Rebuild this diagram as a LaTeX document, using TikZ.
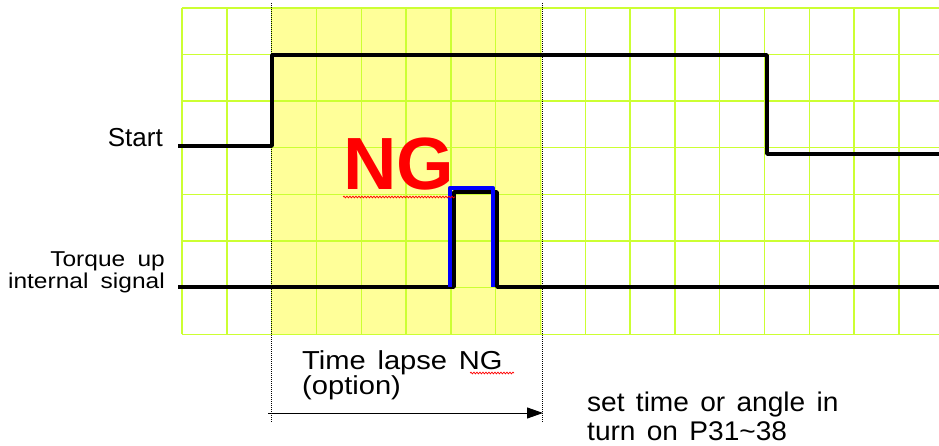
\documentclass[tikz,border=0pt]{standalone}
\usepackage{fontspec}
\setmainfont{Liberation Sans}
\newfontfamily\widesans[FakeStretch=1.14, WordSpace=1.8]{Liberation Sans}
\newfontfamily\notesans[FakeStretch=1.12, WordSpace=1.45]{Liberation Sans}
\newfontfamily\paramsans[FakeStretch=1.04, WordSpace=1.45]{Liberation Sans}
\usepackage{tikz}
\usetikzlibrary{arrows.meta,positioning,decorations.pathmorphing}
\definecolor{gridgreen}{HTML}{CCFF33}
\definecolor{windowyellow}{HTML}{FFFF99}
\definecolor{ngred}{HTML}{FF0000}
\definecolor{pulseblue}{HTML}{0000FF}
\tikzset{
  gridline/.style={gridgreen, line width=1.4pt},
  signal/.style={black, line width=3.6pt, line join=round},
  pulse/.style={pulseblue, line width=4.2pt, line join=round},
  marker/.style={black, densely dotted, line width=1pt},
  span/.style={-{Triangle[length=16pt, width=11pt]}, black, line width=1pt},
  siglabel/.style={font=\widesans\fontsize{21.5}{21.7}\selectfont,
                   align=right, inner sep=0pt},
  note/.style={font=\notesans\fontsize{26}{25}\selectfont,
               align=left, inner sep=0pt},
  squiggle/.style={ngred, line width=0.7pt, decorate,
                   decoration={snake, amplitude=0.9pt, segment length=3pt}},
}

\begin{document}
\begin{tikzpicture}[x=1pt, y=-1pt]
\useasboundingbox (0,0) rectangle (939,446);

% ── Time window (yellow) and grid ──────────────────────────
\fill[windowyellow] (271,8) rectangle (542,334);
\foreach \k in {0,...,16}
  \draw[gridline] ({182+44.8*\k},8) -- ({182+44.8*\k},334);
\foreach \k in {0,...,7}
  \draw[gridline] (182,{8+46.6*\k}) -- (939,{8+46.6*\k});

% ── Window markers ─────────────────────────────────────────
\coordinate (win@l) at (271,3);
\coordinate (win@r) at (542,3);
\draw[marker] (win@l) -- ++(0,419);
\draw[marker] (win@r) -- ++(0,419);

% ── Signal labels (left) ───────────────────────────────────
\node[font=\fontsize{26}{26}\selectfont, inner sep=0pt, anchor=base east]
      (start) at (163,147) {Start};
\node[siglabel, anchor=base east] (torque) at (165,288.3)
      {Torque up\\internal signal};

% ── Start waveform ─────────────────────────────────────────
\draw[signal] (178,146) -- (272,146) -- (272,55) -- (767,55)
      -- (767,154) -- (939,154);

% ── Torque up internal signal with NG pulse ────────────────
\draw[signal] (178,287) -- (454,287) -- (454,192) -- (497,192)
      -- (497,287) -- (939,287);
\draw[pulse] (450,287) -- (450,188) -- (493,188) -- (493,287);

\node[font=\fontsize{74}{74}\selectfont\bfseries, text=ngred,
      inner sep=0pt] (ng) at (399,164) {NG};
\draw[squiggle] (343,197) -- (455,197);

% ── Time lapse span ────────────────────────────────────────
\coordinate (span@a) at (268,413);
\coordinate (span@b) at (543,413);
\draw[span] (span@a) -- (span@b);
\node[note, anchor=base west] (lapse) at (302,394)
      {Time lapse NG\\(option)};
\draw[squiggle] (470,373) -- (514,373);

% ── Parameter note (bottom right) ──────────────────────────
\node[note, font=\paramsans\fontsize{27}{28.5}\selectfont,
      anchor=base west] (setnote) at (587,440)
      {set time or angle in\\turn on P31\textasciitilde 38};

\end{tikzpicture}
\end{document}
